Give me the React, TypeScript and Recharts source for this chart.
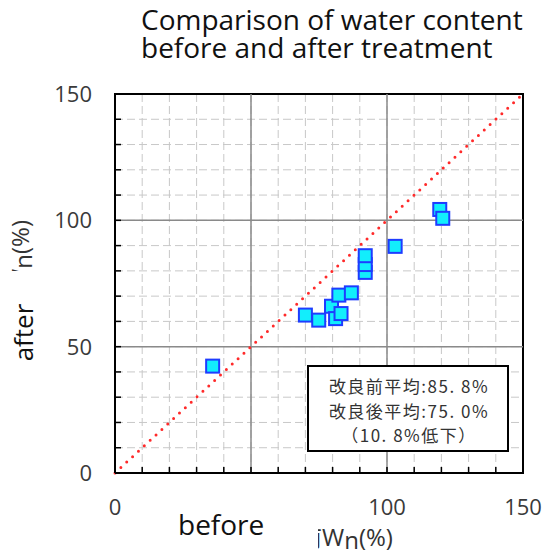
import React from 'react';
import {
  ScatterChart,
  Scatter,
  XAxis,
  YAxis,
  CartesianGrid,
  ReferenceLine,
  ReferenceArea,
} from 'recharts';

// Water content before treatment (x) and after treatment (y), %
const beforeValues = [35.9, 70.0, 74.9, 79.6, 81.1, 82.3, 83.1, 86.9, 92.0, 92.0, 92.0, 103.0, 119.4, 120.5];
const afterValues = [42.3, 62.5, 60.5, 66.0, 61.1, 70.4, 63.1, 71.3, 79.4, 82.5, 86.0, 89.7, 104.3, 100.8];

const gridTicks = [0, 10, 20, 30, 40, 50, 60, 70, 80, 90, 100, 110, 120, 130, 140, 150];
const labelTicks = [0, 50, 100, 150];
const majorLines = [50, 100];

const titleLines = ['Comparison of water content', 'before and after treatment'];
const noteLines = ['改良前平均:85. 8%', '改良後平均:75. 0%', '（10. 8%低下）'];

const points = beforeValues.map((x, i) => ({ x, y: afterValues[i] }));

const LATIN = "'Open Sans', 'Noto Sans CJK JP', sans-serif";
const CJK = "'Noto Sans CJK JP', sans-serif";

const renderXTick = (props: any) => {
  const { x, y, payload } = props;
  const v = payload.value;
  return (
    <g>
      <line x1={x} y1={y} x2={x} y2={y - 6} stroke="#000" strokeWidth={1.5} />
      {labelTicks.includes(v) ? (
        <text x={x} y={y + 42} textAnchor="middle" fontFamily={LATIN} fontSize={22} fill="#3a3a3a">
          {v}
        </text>
      ) : null}
    </g>
  );
};

const renderYTick = (props: any) => {
  const { x, y, payload } = props;
  const v = payload.value;
  return (
    <g>
      <line x1={x} y1={y} x2={x + 6} y2={y} stroke="#000" strokeWidth={1.5} />
      {labelTicks.includes(v) ? (
        <text x={x - 23} y={y + 8} textAnchor="end" fontFamily={LATIN} fontSize={22} fill="#3a3a3a">
          {v}
        </text>
      ) : null}
    </g>
  );
};

const renderSquare = (props: any) => {
  const { cx, cy } = props;
  return (
    <rect x={cx - 6.5} y={cy - 6.5} width={13} height={13} fill="#12eefc" stroke="#1e3cff" strokeWidth={2} />
  );
};

export default function App() {
  return (
    <div style={{ position: 'absolute', left: 0, top: 0, width: 547, height: 554, background: '#fff' }}>
      <ScatterChart width={547} height={554} margin={{ top: 94, right: 24, bottom: 0, left: 0 }}>
        <CartesianGrid stroke="#c8c8c8" strokeDasharray="8 4" strokeWidth={1} />
        <XAxis
          type="number"
          dataKey="x"
          domain={[0, 150]}
          ticks={gridTicks}
          interval={0}
          height={81}
          tickSize={0}
          tickMargin={0}
          tickLine={false}
          axisLine={{ stroke: '#000', strokeWidth: 2 }}
          tick={renderXTick}
        />
        <YAxis
          type="number"
          dataKey="y"
          domain={[0, 150]}
          ticks={gridTicks}
          interval={0}
          width={115}
          tickSize={0}
          tickMargin={0}
          tickLine={false}
          axisLine={{ stroke: '#000', strokeWidth: 2 }}
          tick={renderYTick}
        />
        {majorLines.map((v) => (
          <ReferenceLine key={'x' + v} x={v} stroke="#8a8a8a" strokeWidth={1.5} />
        ))}
        {majorLines.map((v) => (
          <ReferenceLine key={'y' + v} y={v} stroke="#8a8a8a" strokeWidth={1.5} />
        ))}
        <ReferenceLine
          segment={[{ x: 0, y: 0 }, { x: 150, y: 150 }]}
          stroke="#ff2a2a"
          strokeWidth={3}
          strokeDasharray="0 8"
          strokeLinecap="round"
        />
        <ReferenceArea x1={0} x2={150} y1={0} y2={150} fill="none" fillOpacity={0} stroke="#000" strokeWidth={2} />
        <Scatter data={points} shape={renderSquare} isAnimationActive={false} />
      </ScatterChart>

      <svg
        width={547}
        height={554}
        style={{ position: 'absolute', left: 0, top: 0, pointerEvents: 'none' }}
      >
        {titleLines.map((t, i) => (
          <text key={i} x={141} y={30 + i * 28} fontFamily={LATIN} fontSize={28} fill="#111">
            {t}
          </text>
        ))}

        <rect x={308} y={366} width={200} height={85} fill="#fff" stroke="#000" strokeWidth={2} />
        {noteLines.map((t, i) => (
          <text
            key={i}
            x={409}
            y={393 + i * 24.5}
            textAnchor="middle"
            fontFamily={CJK}
            fontSize={17}
            letterSpacing={1.5}
            fill="#333"
          >
            {t}
          </text>
        ))}

        {/* x axis label, partly covered */}
        <text x={250} y={546} fontFamily={LATIN} fontSize={24} fill="#333">
          改良前W<tspan dy={3}>n</tspan>
          <tspan dy={-3}>(%)</tspan>
        </text>
        <rect x={170} y={493} width={148} height={56} fill="#fff" />
        <text x={178} y={535} fontFamily={LATIN} fontSize={28} fill="#111">
          before
        </text>

        {/* y axis label, partly covered */}
        <text transform="translate(29,220) rotate(-90)" textAnchor="end" fontFamily={LATIN} fontSize={24} fill="#333">
          改良後W<tspan dy={3}>n</tspan>
          <tspan dy={-3}>(%)</tspan>
        </text>
        <rect x={0} y={271} width={50} height={130} fill="#fff" />
        <text transform="translate(33,332.5) rotate(-90)" textAnchor="middle" fontFamily={LATIN} fontSize={26} fill="#111">
          after
        </text>
      </svg>
    </div>
  );
}
